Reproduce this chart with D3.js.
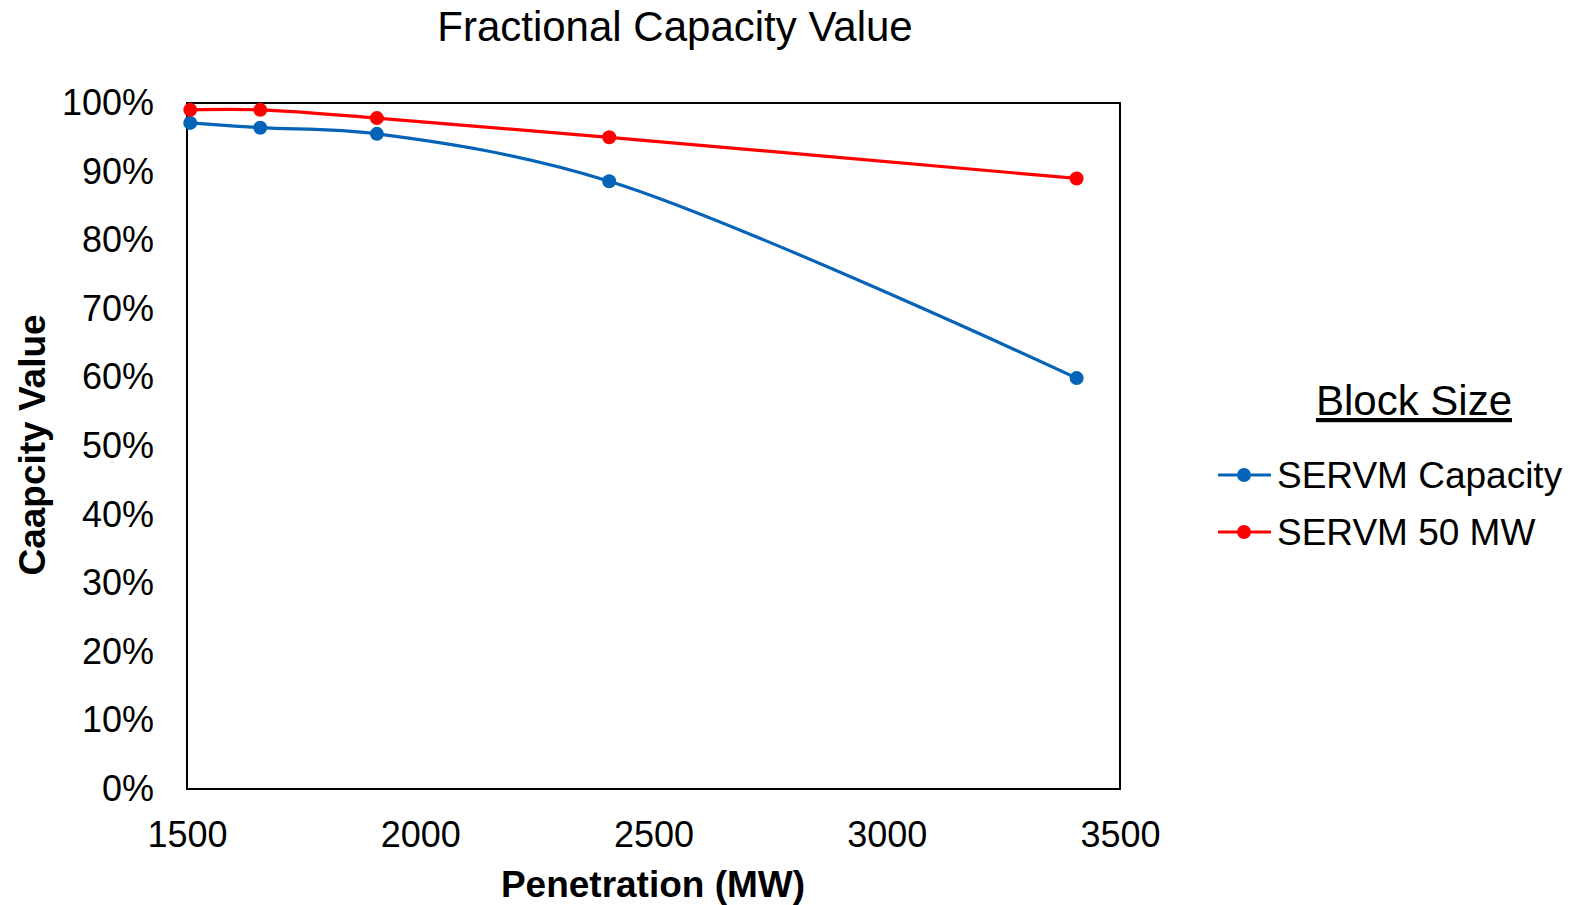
<!DOCTYPE html>
<html>
<head>
<meta charset="utf-8">
<script src="https://cdn.jsdelivr.net/npm/d3@7"></script>
<style>
  html, body { margin: 0; padding: 0; background: #fff; }
  svg { display: block; font-family: "Liberation Sans", Arial, sans-serif; }
</style>
</head>
<body>
<svg id="chart" width="1576" height="905"></svg>
<script>
// Penetration levels (MW) and fractional capacity value per block size
const penetration = [1507, 1657, 1907, 2405, 3407];
const servmCapacity = [0.971, 0.964, 0.955, 0.886, 0.599];
const servm50MW = [0.990, 0.990, 0.978, 0.950, 0.890];
const xTicks = [1500, 2000, 2500, 3000, 3500];
const yTicks = [0, 0.1, 0.2, 0.3, 0.4, 0.5, 0.6, 0.7, 0.8, 0.9, 1.0];
const seriesNames = ["SERVM Capacity", "SERVM 50 MW"];
const seriesColors = ["#0563b8", "#ff0000"];

const series = [
  { name: seriesNames[0], color: seriesColors[0], values: servmCapacity },
  { name: seriesNames[1], color: seriesColors[1], values: servm50MW }
];

const svg = d3.select("#chart");
const plot = { left: 187, right: 1120, top: 103, bottom: 789 };

const x = d3.scaleLinear().domain([1500, 3500]).range([plot.left, plot.right]);
const y = d3.scaleLinear().domain([0, 1]).range([plot.bottom, plot.top]);

// Title
svg.append("text")
  .attr("x", 675).attr("y", 41)
  .attr("text-anchor", "middle")
  .attr("font-size", 42)
  .text("Fractional Capacity Value");

// Plot frame
svg.append("rect")
  .attr("x", plot.left).attr("y", plot.top)
  .attr("width", plot.right - plot.left)
  .attr("height", plot.bottom - plot.top)
  .attr("fill", "none").attr("stroke", "#000").attr("stroke-width", 2);

// Axes (labels only, frame provides the lines)
const xAxis = d3.axisBottom(x).tickValues(xTicks).tickSize(0).tickPadding(32)
  .tickFormat(d3.format("d"));
const gx = svg.append("g").attr("transform", `translate(0,${plot.bottom})`).call(xAxis);
gx.select(".domain").remove();
gx.selectAll("text").attr("font-size", 36).attr("fill", "#000")
  .attr("font-family", "Liberation Sans, Arial, sans-serif");

const yAxis = d3.axisLeft(y).tickValues(yTicks).tickSize(0).tickPadding(33)
  .tickFormat(d3.format(".0%"));
const gy = svg.append("g").attr("transform", `translate(${plot.left},0)`).call(yAxis);
gy.select(".domain").remove();
gy.selectAll("text").attr("font-size", 36).attr("fill", "#000")
  .attr("font-family", "Liberation Sans, Arial, sans-serif");

// Axis titles
svg.append("text")
  .attr("x", 653).attr("y", 897)
  .attr("text-anchor", "middle")
  .attr("font-size", 37).attr("font-weight", "bold")
  .text("Penetration (MW)");

svg.append("text")
  .attr("transform", "translate(45,445) rotate(-90)")
  .attr("text-anchor", "middle")
  .attr("font-size", 37).attr("font-weight", "bold")
  .text("Caapcity Value");

// Smoothed series lines and markers
const line = d3.line()
  .x((d, i) => x(penetration[i]))
  .y(d => y(d))
  .curve(d3.curveCatmullRom.alpha(0.5));

series.forEach(s => {
  svg.append("path")
    .datum(s.values)
    .attr("d", line)
    .attr("fill", "none")
    .attr("stroke", s.color)
    .attr("stroke-width", 3.2);
  svg.append("g").selectAll("circle")
    .data(s.values)
    .join("circle")
    .attr("cx", (d, i) => x(penetration[i]))
    .attr("cy", d => y(d))
    .attr("r", 7)
    .attr("fill", s.color);
});

// Legend
svg.append("text")
  .attr("x", 1414).attr("y", 415)
  .attr("text-anchor", "middle")
  .attr("font-size", 42)
  .attr("text-decoration", "underline")
  .text("Block Size");

const legend = svg.append("g");
series.forEach((s, i) => {
  const ly = 475 + i * 57;
  legend.append("line")
    .attr("x1", 1218).attr("x2", 1271)
    .attr("y1", ly).attr("y2", ly)
    .attr("stroke", s.color).attr("stroke-width", 3.2);
  legend.append("circle")
    .attr("cx", 1244).attr("cy", ly).attr("r", 7)
    .attr("fill", s.color);
  legend.append("text")
    .attr("x", 1277).attr("y", ly + 13)
    .attr("font-size", 37)
    .text(s.name);
});
</script>
</body>
</html>
